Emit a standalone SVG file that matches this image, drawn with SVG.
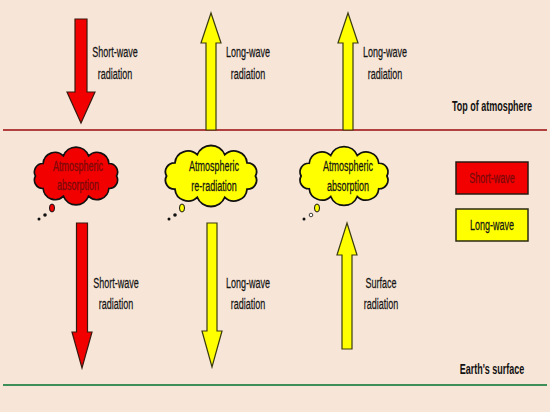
<svg xmlns="http://www.w3.org/2000/svg" width="550" height="412" viewBox="0 0 550 412">
<defs>
<style>
.t{font-family:"Liberation Sans",Arial,sans-serif;font-size:15px;fill:#151515;stroke:#151515;stroke-width:0.25;text-anchor:middle}
.b{font-family:"Liberation Sans",Arial,sans-serif;font-size:15.5px;font-weight:bold;fill:#111;text-anchor:middle}
.dr{fill:#7a0a0a;stroke:#7a0a0a}
.red{fill:#f20000;stroke:#3a1a10;stroke-width:1.2}
.yel{fill:#ffff00;stroke:#3a3a10;stroke-width:1.2}
.cl{stroke:#111;stroke-width:1.6}
</style>
<path id="cloud" d="M -39,0 A 8 8 0 0 1 -31.6,-11.8 A 11.5 11.5 0 0 1 -12.1,-19 A 13 13 0 0 1 12.1,-19 A 11.5 11.5 0 0 1 31.6,-11.8 A 8 8 0 0 1 39,0 A 8 8 0 0 1 31.6,11.8 A 11.5 11.5 0 0 1 12.1,19 A 13 13 0 0 1 -12.1,19 A 11.5 11.5 0 0 1 -31.6,11.8 A 8 8 0 0 1 -39,0 Z"/>
</defs>
<rect width="550" height="412" fill="#f7e5d7"/>
<g id="lines">
<line x1="3" y1="130" x2="547" y2="130" stroke="#b0413e" stroke-width="2.2"/>
<line x1="3" y1="385" x2="547" y2="385" stroke="#3e8e57" stroke-width="2.2"/>
</g>
<g id="connectors">
<polygon class="red" points="75,19 87,19 87,92 95,92 81,123 67,92 75,92"/>
<polygon class="yel" points="211,13 221,43 216,43 216,130 206,130 206,43 201,43"/>
<polygon class="yel" points="348,13 358,43 353,43 353,130 343,130 343,43 338,43"/>
<polygon class="red" points="76.5,223 87.5,223 87.5,332 92,332 82,368 72,332 76.5,332"/>
<polygon class="yel" points="207,223 217,223 217,331 222,331 212,367 202,331 207,331"/>
<polygon class="yel" points="347,223 357,255 352,255 352,349 342,349 342,255 337,255"/>
</g>
<g id="labels-top">
<text class="t" transform="translate(115,57) scale(0.6,1)">Short-wave</text>
<text class="t" transform="translate(115,79) scale(0.6,1)">radiation</text>
<text class="t" transform="translate(248,57) scale(0.6,1)">Long-wave</text>
<text class="t" transform="translate(248,79) scale(0.6,1)">radiation</text>
<text class="t" transform="translate(385,57) scale(0.6,1)">Long-wave</text>
<text class="t" transform="translate(385,79) scale(0.6,1)">radiation</text>
<text class="b" transform="translate(492,111) scale(0.58,1)">Top of atmosphere</text>
</g>
<g id="cloud-absorption-sw">
<use href="#cloud" class="cl" fill="#f20000" transform="translate(76,176) scale(1.04,1.06)"/>
<text class="t dr" transform="translate(78,171) scale(0.6,1)">Atmospheric</text>
<text class="t dr" transform="translate(78,190) scale(0.6,1)">absorption</text>
<ellipse cx="52" cy="208" rx="2.5" ry="4" fill="#f20000" stroke="#111" stroke-width="1"/>
<circle cx="45" cy="215" r="1.8" fill="#111"/>
<circle cx="39" cy="219" r="1.5" fill="#111"/>
</g>
<g id="cloud-reradiation">
<use href="#cloud" class="cl" fill="#ffff00" transform="translate(211,176) scale(1.14,1.12)"/>
<text class="t" transform="translate(214,171) scale(0.6,1)">Atmospheric</text>
<text class="t" transform="translate(214,191) scale(0.6,1)">re-radiation</text>
<ellipse cx="182" cy="208" rx="2.5" ry="4" fill="#ffff00" stroke="#111" stroke-width="1"/>
<circle cx="175" cy="215" r="1.8" fill="#111"/>
<circle cx="169" cy="219" r="1.5" fill="#111"/>
</g>
<g id="cloud-absorption-lw">
<use href="#cloud" class="cl" fill="#ffff00" transform="translate(344,176) scale(1.1,1.08)"/>
<text class="t" transform="translate(348,171) scale(0.6,1)">Atmospheric</text>
<text class="t" transform="translate(348,191) scale(0.6,1)">absorption</text>
<ellipse cx="317" cy="208" rx="2.5" ry="4" fill="#ffff00" stroke="#111" stroke-width="1"/>
<circle cx="311" cy="215" r="1.8" fill="#fff" stroke="#111" stroke-width="0.8"/>
<circle cx="304" cy="219" r="1.5" fill="#111"/>
</g>
<g id="labels-bottom">
<text class="t" transform="translate(116,288) scale(0.6,1)">Short-wave</text>
<text class="t" transform="translate(116,309) scale(0.6,1)">radiation</text>
<text class="t" transform="translate(248,288) scale(0.6,1)">Long-wave</text>
<text class="t" transform="translate(248,309) scale(0.6,1)">radiation</text>
<text class="t" transform="translate(381,288) scale(0.6,1)">Surface</text>
<text class="t" transform="translate(381,309) scale(0.6,1)">radiation</text>
<text class="b" transform="translate(492,374) scale(0.58,1)">Earth's surface</text>
</g>
<g id="legend-short">
<rect x="456" y="162" width="72" height="32" fill="#f20000" stroke="#2a1a10" stroke-width="1.5"/>
<text class="t dr" transform="translate(492,183) scale(0.6,1)">Short-wave</text>
</g>
<g id="legend-long">
<rect x="456" y="209" width="72" height="32" fill="#ffff00" stroke="#2a2a10" stroke-width="1.5"/>
<text class="t" transform="translate(492,230) scale(0.6,1)">Long-wave</text>
</g>
</svg>
